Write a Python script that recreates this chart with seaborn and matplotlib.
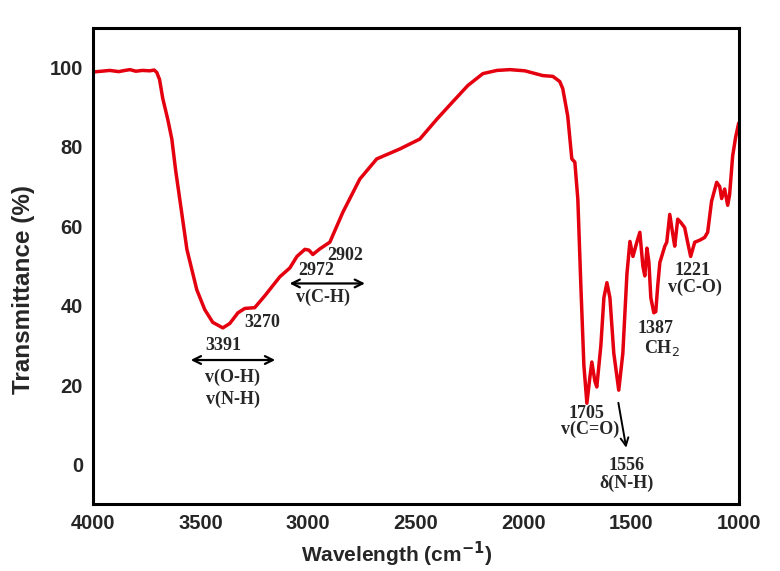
import numpy as np
import pandas as pd
import matplotlib
matplotlib.use("Agg")
import matplotlib.pyplot as plt
import seaborn as sns
from matplotlib.ticker import MultipleLocator

# FTIR spectrum
wavenumber = [4000, 3960, 3921, 3880, 3850, 3828, 3800, 3770, 3735, 3715, 3703,
              3690, 3675, 3652, 3633, 3615, 3596, 3563, 3517, 3480, 3443, 3396,
              3364, 3326, 3294, 3248, 3201, 3131, 3085, 3052, 3015, 2996, 2978,
              2946, 2899, 2839, 2760, 2681, 2574, 2481, 2402, 2328, 2258, 2188,
              2123, 2063, 1993, 1910, 1863, 1831, 1817, 1794, 1775, 1761, 1747,
              1733, 1719, 1705, 1691, 1682, 1668, 1659, 1640, 1626, 1612, 1598,
              1580, 1557, 1538, 1519, 1505, 1491, 1473, 1459, 1445, 1436, 1426,
              1417, 1408, 1394, 1385, 1376, 1366, 1343, 1334, 1320, 1306, 1297,
              1283, 1269, 1251, 1237, 1223, 1204, 1181, 1158, 1144, 1126, 1102,
              1088, 1079, 1065, 1051, 1042, 1028, 1014, 1000]
transmittance = [98.9, 99.1, 99.3, 99.0, 99.3, 99.5, 99.1, 99.3, 99.2, 99.4, 98.8,
                 97.0, 92.2, 87.0, 82.0, 74.0, 66.8, 54.2, 44.0, 39.0, 35.8, 34.4,
                 35.5, 38.2, 39.3, 39.5, 42.5, 47.3, 49.5, 52.4, 54.2, 54.0, 52.9,
                 54.3, 56.0, 63.5, 71.9, 77.0, 79.5, 82.0, 87.0, 91.4, 95.5, 98.5,
                 99.3, 99.5, 99.2, 98.0, 97.8, 96.5, 94.7, 87.8, 77.0, 76.2, 66.8,
                 45.0, 25.0, 15.4, 22.0, 25.8, 21.0, 19.5, 30.0, 42.0, 45.8, 42.0,
                 28.0, 18.7, 28.0, 48.0, 56.2, 52.4, 56.0, 58.5, 50.0, 47.5, 54.5,
                 51.0, 42.0, 38.2, 38.5, 45.0, 50.9, 55.0, 56.0, 63.0, 58.0, 55.0,
                 61.8, 61.0, 59.7, 56.0, 52.4, 56.0, 56.5, 57.2, 58.5, 66.3, 71.1,
                 70.0, 67.0, 69.4, 65.3, 68.0, 77.7, 82.5, 86.0]

# peak labels: (text, x, y)
peak_labels = [
    ("3391", 3394, 30.0), ("3270", 3215, 35.7),
    ("v(O-H)", 3350, 22.0), ("v(N-H)", 3350, 16.5),
    ("2972", 2964, 48.9), ("2902", 2829, 52.6), ("v(C-H)", 2932, 42.0),
    ("1705", 1705, 12.8), ("v(C=O)", 1691, 8.8),
    ("1556", 1520, -0.2), ("δ(N-H)", 1520, -4.9),
    ("1387", 1385, 34.2), ("CH$_2$", 1357, 29.4),
    ("1221", 1213, 48.8), ("v(C-O)", 1204, 44.6),
]

df = pd.DataFrame({"wavenumber": wavenumber, "transmittance": transmittance})

sns.set_style("white")
plt.rcParams["font.family"] = ["Liberation Sans", "DejaVu Sans"]

fig = plt.figure(figsize=(7.8, 5.71), dpi=100)
ax = fig.add_axes([0.119, 0.1173, 0.828, 0.8337])

sns.lineplot(data=df, x="wavenumber", y="transmittance", ax=ax,
             color="#e4000f", linewidth=2.5, sort=False)

ax.set_xlim(4000, 1000)
ax.set_ylim(-10, 110)
ax.xaxis.set_major_locator(MultipleLocator(500))
ax.xaxis.set_minor_locator(MultipleLocator(250))
ax.yaxis.set_major_locator(MultipleLocator(20))
ax.yaxis.set_minor_locator(MultipleLocator(10))
ax.set_yticks([0, 20, 40, 60, 80, 100])
ax.tick_params(which="major", direction="in", length=8, width=2.2,
               labelsize=14.5, pad=7)
ax.tick_params(which="minor", direction="in", length=4.5, width=2.0)
for lbl in ax.get_xticklabels() + ax.get_yticklabels():
    lbl.set_fontweight("bold")
for sp in ax.spines.values():
    sp.set_linewidth(2.2)
    sp.set_color("black")

ax.set_xlabel("Wavelength (cm$^{\\mathbf{-1}}$)", fontsize=15, fontweight="bold")
ax.set_ylabel("Transmittance (%)", fontsize=17.5, fontweight="bold")
ax.xaxis.set_label_coords(0.47, -0.075)
ax.yaxis.set_label_coords(-0.09, 0.45)

for txt, x, y in peak_labels:
    ax.text(x, y, txt, ha="center", va="center", fontsize=13,
            fontweight="bold", family=["Liberation Serif", "DejaVu Serif"])

arrow_kw = dict(arrowstyle="<->", color="black", lw=1.6, mutation_scale=14)
ax.annotate("", xy=(3558, 26.3), xytext=(3140, 26.3), arrowprops=arrow_kw)
ax.annotate("", xy=(3099, 45.6), xytext=(2723, 45.6), arrowprops=arrow_kw)
ax.annotate("", xy=(1520, 3.5), xytext=(1561, 16.2),
            arrowprops=dict(arrowstyle="->", color="black", lw=1.4, mutation_scale=14))

fig.savefig("out.png", dpi=100)
